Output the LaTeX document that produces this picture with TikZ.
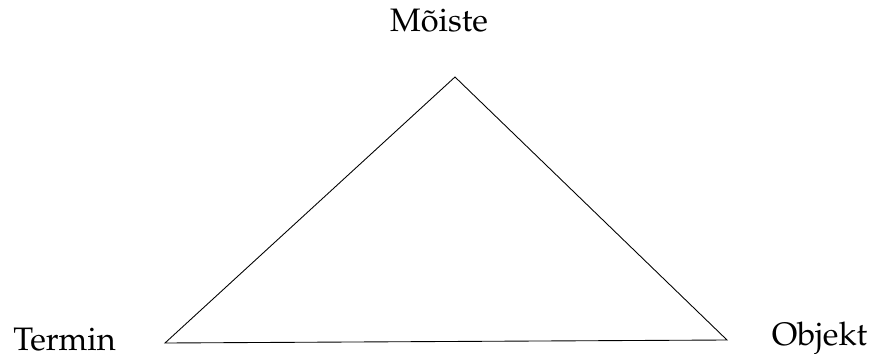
\documentclass[tikz,border=0pt]{standalone}
\usepackage[T1]{fontenc}
\usepackage{mathpazo}
\usetikzlibrary{positioning}

\begin{document}
\begin{tikzpicture}[x=0.02cm, y=-0.02cm, every node/.style={font=\fontsize{18.5}{22}\selectfont, inner sep=0pt, anchor=base}]
\useasboundingbox (0,0) rectangle (874,354);
% corners of the triangle
\coordinate (top) at (455,77);
\coordinate (left) at (165,343);
\coordinate (right) at (727,340);
\draw[line width=0.5pt] (top) -- (left) -- (right) -- cycle;
% labels
\node (moiste) at (439,32) {M\~{o}iste};
\node (termin) at (64.5,350) {Termin};
\node (objekt) at (819.5,345) {Objekt};
\end{tikzpicture}
\end{document}
